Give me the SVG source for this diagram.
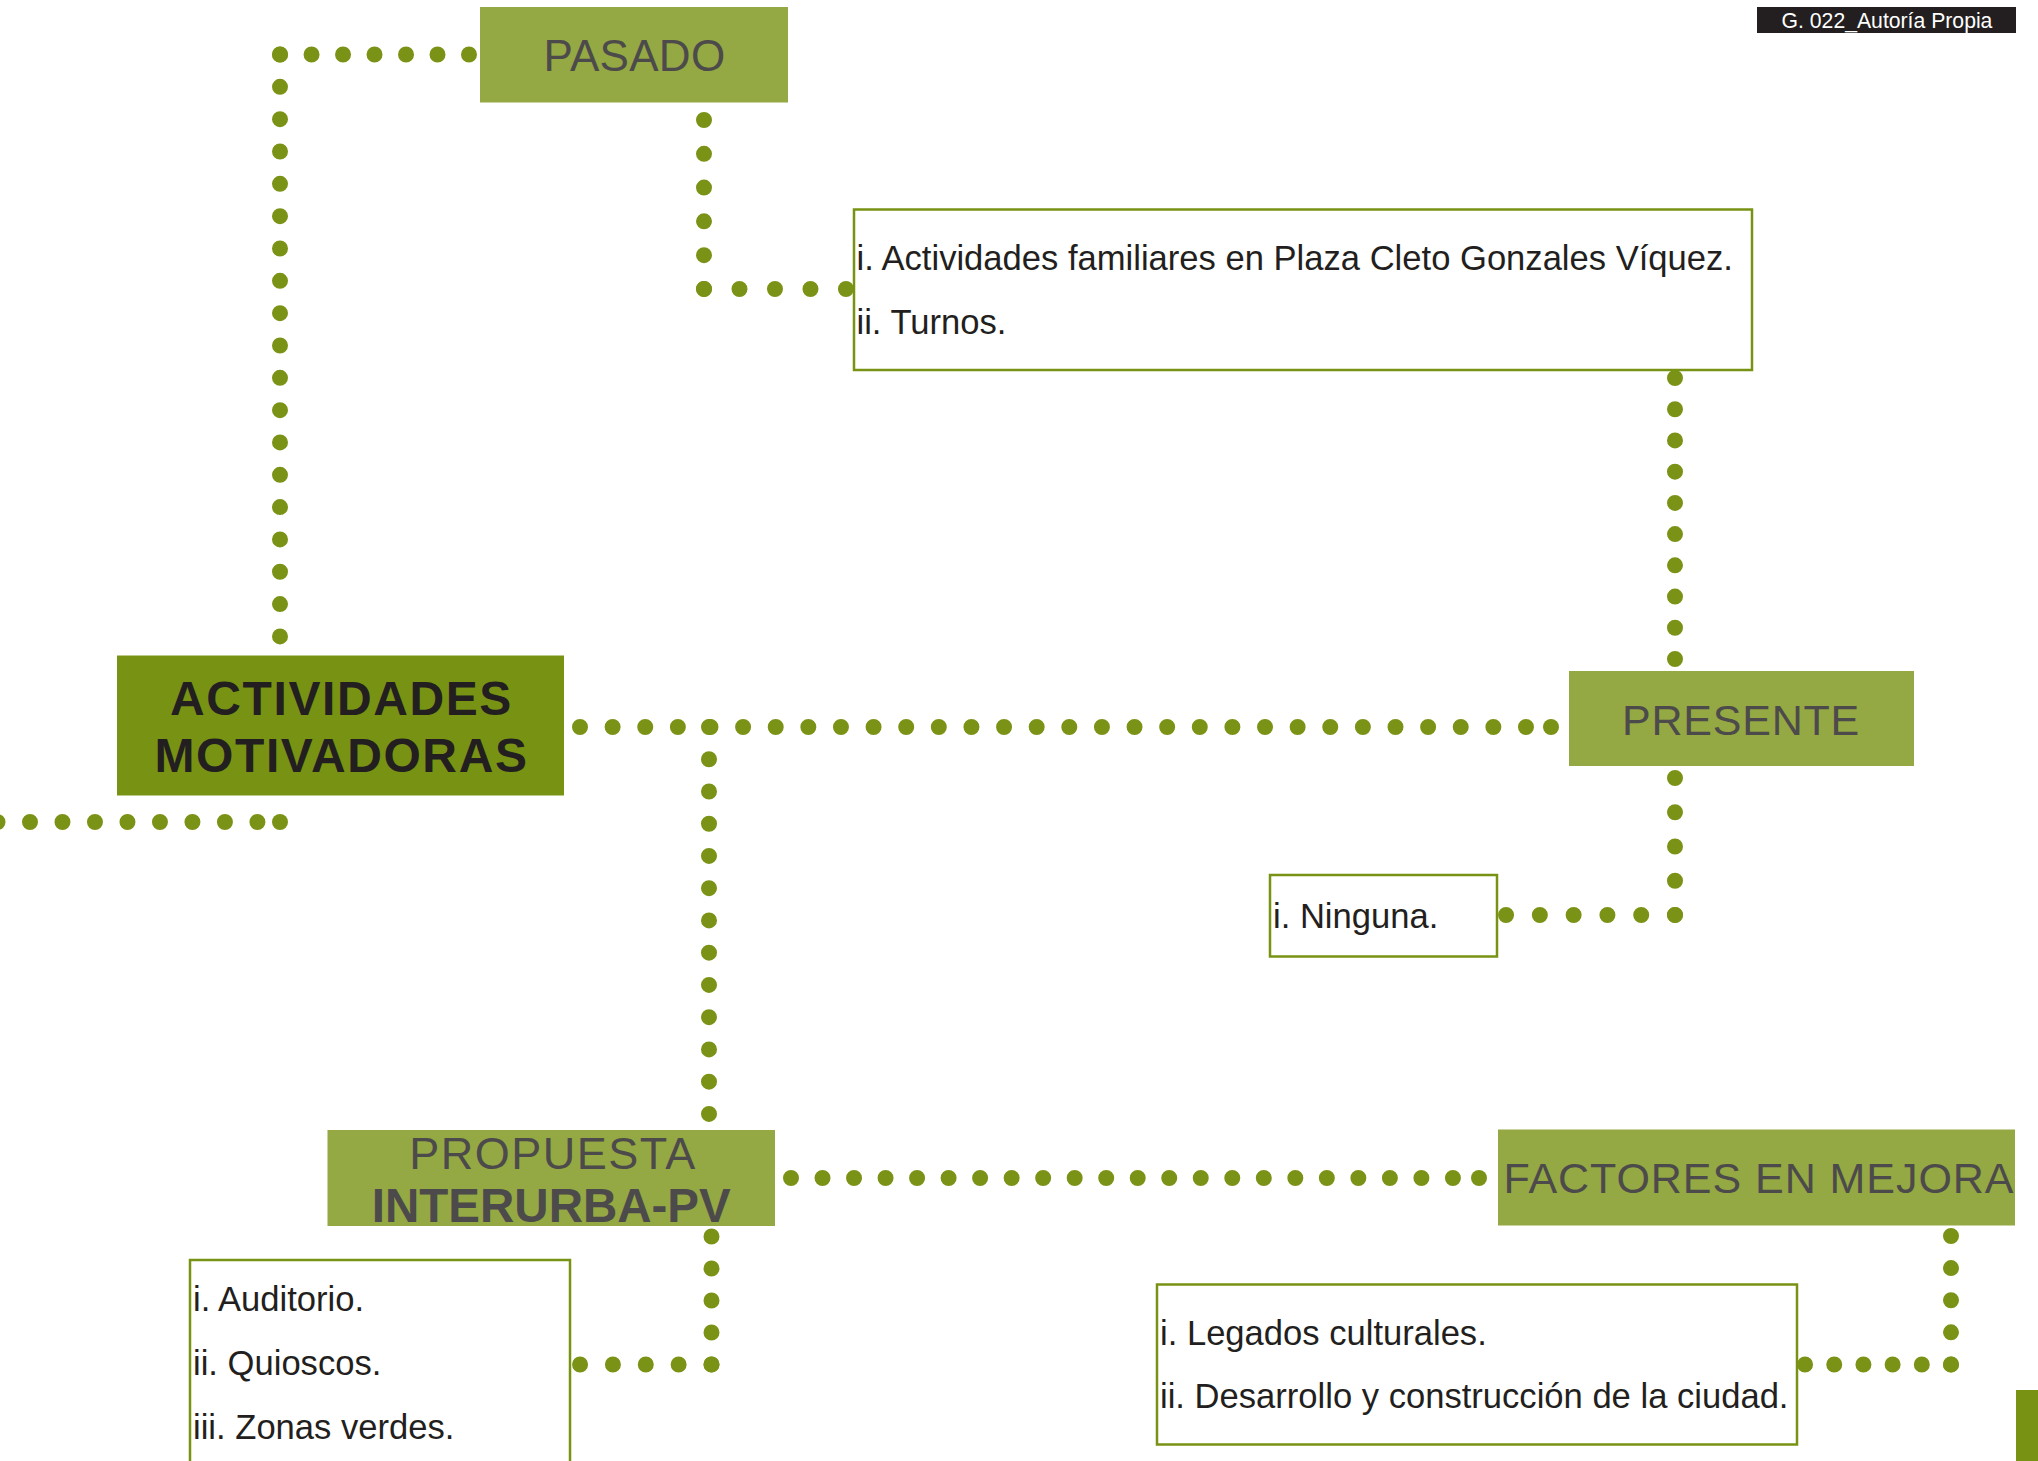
<svg xmlns="http://www.w3.org/2000/svg" width="2038" height="1461" viewBox="0 0 2038 1461">
<style>
.dot{stroke:#7a9316;stroke-width:16;stroke-linecap:round;fill:none}
.dotc{fill:#7a9316}
.light{fill:#94a843}
.dark{fill:#789314}
.box{fill:#ffffff;stroke:#789314;stroke-width:2.5}
.ttl{font-family:"Liberation Sans",Arial,sans-serif;font-size:43px;fill:#4d4a4b;text-anchor:middle;letter-spacing:0.5px}
.body{font-family:"Liberation Sans",Arial,sans-serif;font-size:34.6px;fill:#231f20}
</style>
<rect width="2038" height="1461" fill="#ffffff"/>
<g id="connectors">
<line class="dot" x1="469" y1="54.5" x2="280" y2="54.5" stroke-dasharray="0 31.49"/>
<line class="dot" x1="280" y1="54.5" x2="280" y2="636.5" stroke-dasharray="0 32.33"/>
<line class="dot" x1="704" y1="120" x2="704" y2="289" stroke-dasharray="0 33.79"/>
<line class="dot" x1="704" y1="289" x2="846" y2="289" stroke-dasharray="0 35.49"/>
<line class="dot" x1="1675" y1="378" x2="1675" y2="659" stroke-dasharray="0 31.22"/>
<line class="dot" x1="580" y1="727" x2="1526" y2="727" stroke-dasharray="0 32.62"/>
<circle class="dotc" cx="1551" cy="727" r="8"/>
<line class="dot" x1="709" y1="727" x2="709" y2="1114" stroke-dasharray="0 32.24"/>
<line class="dot" x1="-2.5" y1="822" x2="257.5" y2="822" stroke-dasharray="0 32.49"/>
<circle class="dotc" cx="280" cy="822" r="8"/>
<line class="dot" x1="791" y1="1178" x2="1453" y2="1178" stroke-dasharray="0 31.52"/>
<circle class="dotc" cx="1479" cy="1178" r="8"/>
<line class="dot" x1="711.5" y1="1236.5" x2="711.5" y2="1364.5" stroke-dasharray="0 31.99"/>
<line class="dot" x1="711.5" y1="1364.5" x2="580" y2="1364.5" stroke-dasharray="0 32.86"/>
<line class="dot" x1="1951" y1="1236" x2="1951" y2="1364.5" stroke-dasharray="0 32.11"/>
<line class="dot" x1="1951" y1="1364.5" x2="1805" y2="1364.5" stroke-dasharray="0 29.19"/>
<line class="dot" x1="1675" y1="778" x2="1675" y2="915" stroke-dasharray="0 34.24"/>
<line class="dot" x1="1675" y1="915" x2="1506" y2="915" stroke-dasharray="0 33.79"/>
</g>
<g id="pasado">
<rect class="light" x="480" y="7" width="308" height="95.5"/>
<text class="ttl" x="634.5" y="71" style="font-size:44px;letter-spacing:0.3px">PASADO</text>
</g>
<g id="pasado-items">
<rect class="box" x="854" y="209.5" width="898" height="160.5"/>
<text class="body" x="856.5" y="269.5">i. Actividades familiares en Plaza Cleto Gonzales Víquez.</text>
<text class="body" x="856.5" y="333.5">ii. Turnos.</text>
</g>
<g id="actividades">
<rect class="dark" x="117" y="655.5" width="447" height="140"/>
<text x="341.5" y="715" text-anchor="middle" font-family="'Liberation Sans',Arial,sans-serif" font-weight="bold" font-size="48" letter-spacing="1.6" fill="#231f20">ACTIVIDADES</text>
<text x="341.5" y="772" text-anchor="middle" font-family="'Liberation Sans',Arial,sans-serif" font-weight="bold" font-size="48" letter-spacing="1.6" fill="#231f20">MOTIVADORAS</text>
</g>
<g id="presente">
<rect class="light" x="1569" y="671" width="345" height="95"/>
<text class="ttl" x="1741" y="735" style="letter-spacing:0.8px">PRESENTE</text>
</g>
<g id="presente-items">
<rect class="box" x="1270" y="875" width="227" height="81.5"/>
<text class="body" x="1273" y="928">i. Ninguna.</text>
</g>
<g id="propuesta">
<rect class="light" x="327.5" y="1130" width="447.5" height="96"/>
<text class="ttl" x="553" y="1169.3" style="font-size:45px;letter-spacing:1.5px">PROPUESTA</text>
<text x="551.3" y="1222.3" text-anchor="middle" font-family="'Liberation Sans',Arial,sans-serif" font-weight="bold" font-size="47.5" fill="#4d4a4b">INTERURBA-PV</text>
</g>
<g id="propuesta-items">
<rect class="box" x="190" y="1260" width="380" height="260"/>
<text class="body" x="193" y="1311">i. Auditorio.</text>
<text class="body" x="193" y="1375">ii. Quioscos.</text>
<text class="body" x="193" y="1439">iii. Zonas verdes.</text>
</g>
<g id="factores">
<rect class="light" x="1498" y="1129.5" width="517" height="96"/>
<text class="ttl" x="1759" y="1193" style="letter-spacing:0.95px">FACTORES EN MEJORA</text>
</g>
<g id="factores-items">
<rect class="box" x="1157" y="1284.5" width="640" height="160"/>
<text class="body" x="1160" y="1344.5">i. Legados culturales.</text>
<text class="body" x="1160" y="1407.5">ii. Desarrollo y construcción de la ciudad.</text>
</g>
<g id="label">
<rect x="1757" y="7" width="259" height="26" fill="#231f20"/>
<text x="1887" y="27.5" text-anchor="middle" font-family="'Liberation Sans',Arial,sans-serif" font-size="21.2" fill="#ffffff">G. 022_Autoría Propia</text>
</g>
<g id="corner-tab">
<rect class="dark" x="2016" y="1390" width="22" height="71"/>
</g>
</svg>
